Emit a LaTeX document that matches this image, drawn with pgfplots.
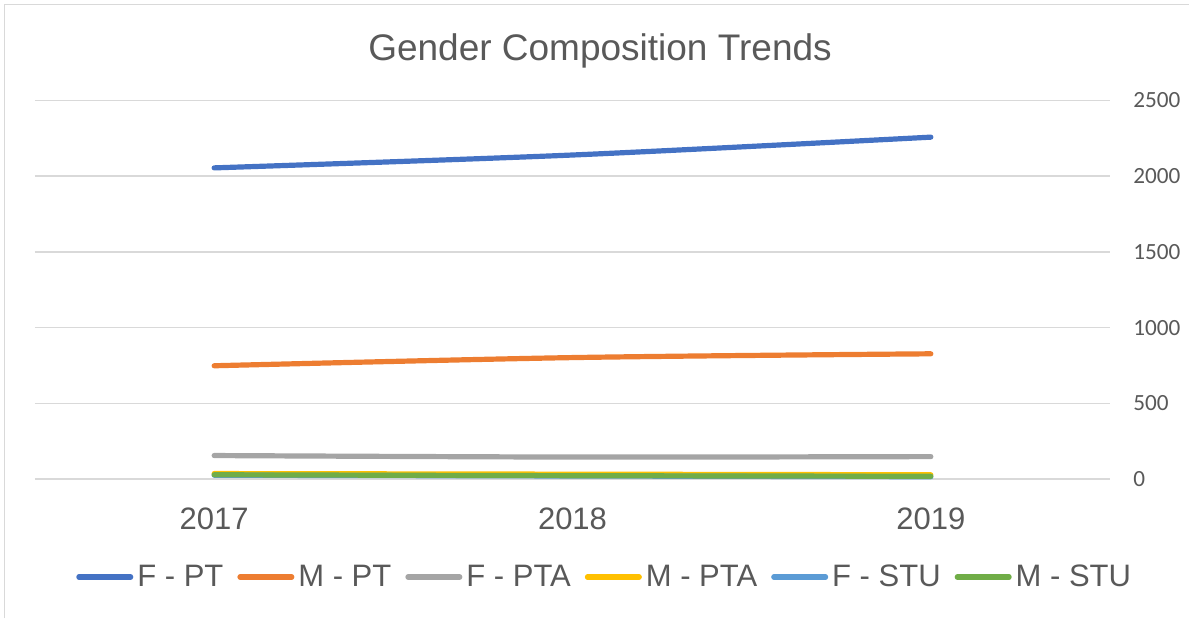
\documentclass[border=0pt]{standalone}
\usepackage{fontspec}
\setmainfont{Liberation Sans}
\newfontfamily\calibri{Carlito}
\usepackage{pgfplots}
\pgfplotsset{compat=1.18}
\definecolor{txt}{RGB}{89,89,89}
\definecolor{gridc}{RGB}{217,217,217}
\definecolor{c1}{RGB}{68,114,196}
\definecolor{c2}{RGB}{237,125,49}
\definecolor{c3}{RGB}{165,165,165}
\definecolor{c4}{RGB}{255,192,0}
\definecolor{c5}{RGB}{91,155,213}
\definecolor{c6}{RGB}{112,173,71}
\begin{document}
\begin{tikzpicture}
\useasboundingbox (-17.5pt,-69.5pt) rectangle (577pt,239.5pt);
\draw[gridc, line width=0.75pt] (-15.25pt,-69.5pt) -- (-15.25pt,237.25pt) -- (577pt,237.25pt);
\node[font=\fontsize{18.5}{22}\selectfont, text=txt, anchor=base] at (282.5pt,209.5pt) {Gender Composition Trends};
\begin{axis}[
  at={(0pt,0pt)}, anchor=south west,
  scale only axis, width=537.5pt, height=189.25pt,
  xmin=-0.5, xmax=2.5, ymin=0, ymax=2500,
  clip=false,
  xtick={0,1,2}, xticklabels={2017,2018,2019},
  ytick={0,500,1000,1500,2000,2500},
  yticklabel pos=right,
  ymajorgrids, grid style={gridc, line width=0.8pt},
  axis line style={draw=none}, major tick style={draw=none},
  /pgf/number format/1000 sep={},
  /pgf/number format/assume math mode=true,
  xticklabel style={anchor=base, yshift=-25pt, font=\fontsize{15.5}{18}\selectfont, text=txt},
  yticklabel style={anchor=west, inner sep=0pt, xshift=11.5pt, font=\calibri\fontsize{11.6}{14}\selectfont, text=txt},
  every axis plot/.append style={line width=2.6pt, line cap=round, line join=round, smooth},
  legend columns=6,
  legend style={at={(0.529,-0.259)}, anchor=center, draw=none, fill=none,
    font=\fontsize{15.5}{18}\selectfont, text=txt,
    nodes={inner sep=0pt},
    /tikz/every odd column/.append style={column sep=2pt},
    /tikz/every even column/.append style={column sep=7pt}},
  legend image code/.code={\draw[#1] (1.3pt,0pt) -- (27.2pt,0pt);},
]
\addplot[c1] coordinates {(0,2055) (1,2140) (2,2258)};
\addlegendentry{F - PT}
\addplot[c2] coordinates {(0,748) (1,802) (2,827)};
\addlegendentry{M - PT}
\addplot[c3] coordinates {(0,155) (1,145) (2,148)};
\addlegendentry{F - PTA}
\addplot[c4] coordinates {(0,36) (1,32) (2,28)};
\addlegendentry{M - PTA}
\addplot[c5] coordinates {(0,25) (1,20) (2,15)};
\addlegendentry{F - STU}
\addplot[c6] coordinates {(0,28) (1,22) (2,18)};
\addlegendentry{M - STU}
\end{axis}
\end{tikzpicture}
\end{document}
